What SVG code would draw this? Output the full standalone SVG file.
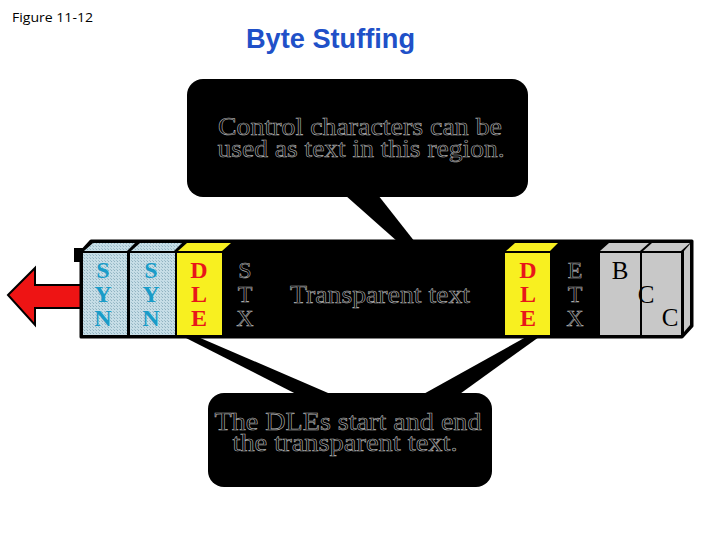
<svg xmlns="http://www.w3.org/2000/svg" width="720" height="540" viewBox="0 0 720 540">
<style>
.hollow{font-family:"Liberation Serif","Times New Roman",serif;font-size:26px;fill:#000;stroke:#b4b4b4;stroke-width:0.6;text-anchor:middle}
.hol24{font-family:"Liberation Serif","Times New Roman",serif;font-size:24px;fill:#000;stroke:#b4b4b4;stroke-width:0.6;text-anchor:middle}
.syn{font-family:"Liberation Serif","Times New Roman",serif;font-size:24px;font-weight:bold;fill:#1a9cc8;text-anchor:middle}
.dle{font-family:"Liberation Serif","Times New Roman",serif;font-size:24px;font-weight:bold;fill:#e8161a;text-anchor:middle}
.bcc{font-family:"Liberation Serif","Times New Roman",serif;font-size:25px;fill:#000;text-anchor:middle}
.callout{fill:#000}
</style>
<defs>
<pattern id="hatch" width="3" height="3" patternUnits="userSpaceOnUse">
<rect width="3" height="3" fill="#c6dde6"/>
<rect width="1" height="1" fill="#8fb2c0"/>
<rect x="2" y="2" width="1" height="1" fill="#9fbfcc"/>
</pattern>
</defs>
<rect width="720" height="540" fill="#fff"/>
<g id="header">
<text x="12" y="22" font-family="'Open Sans','Liberation Sans',sans-serif" font-size="13" textLength="81" lengthAdjust="spacingAndGlyphs" fill="#000">Figure 11-12</text>
<text x="246" y="48" font-family="'Liberation Sans','Noto Sans',sans-serif" font-size="27" font-weight="bold" textLength="169" lengthAdjust="spacingAndGlyphs" fill="#2050c8">Byte Stuffing</text>
</g>
<g id="connectors">
<polygon points="345,195 378,195 415,242 398,242" fill="#000"/>
<polygon points="184,337 198,337 335,396 300,396" fill="#000"/>
<polygon points="526,337 539,337 457,396 420,396" fill="#000"/>
</g>
<g id="arrow">
<polygon points="8,295 35,268 35,285 82,285 82,308 35,308 35,325" fill="#ee1414" stroke="#000" stroke-width="2" stroke-linejoin="miter"/>
</g>
<g id="frame">
<rect x="74" y="248" width="9" height="14" fill="#000"/>
<polygon points="81,252 91,241 692,241 692,326 682,337 81,337" fill="#000" stroke="#000" stroke-width="3" stroke-linejoin="round"/>
<polygon points="84,251 93,243 135,243 127,251" fill="url(#hatch)"/>
<polygon points="131,251 140,243 182,243 174,251" fill="url(#hatch)"/>
<polygon points="178,251 187,243 231,243 222,251" fill="#f8f020"/>
<polygon points="506,251 515,243 558,243 550,251" fill="#f8f020"/>
<polygon points="600,251 609,243 649,243 640,251" fill="#c8c8c8"/>
<polygon points="643,251 652,243 690,243 681,251" fill="#c8c8c8"/>
<polygon points="684,251 690,244 690,325 684,332" fill="#c8c8c8"/>
<rect x="83" y="253" width="44" height="82" fill="url(#hatch)"/>
<rect x="130" y="253" width="45" height="82" fill="url(#hatch)"/>
<rect x="177" y="253" width="45" height="82" fill="#f8f020"/>
<rect x="505" y="253" width="45" height="82" fill="#f8f020"/>
<rect x="600" y="253" width="40" height="82" fill="#c8c8c8"/>
<rect x="642" y="253" width="39" height="82" fill="#c8c8c8"/>
</g>
<g id="syn1">
<text class="syn" x="103" y="278">S</text>
<text class="syn" x="103" y="302">Y</text>
<text class="syn" x="103" y="326">N</text>
</g>
<g id="syn2">
<text class="syn" x="151" y="278">S</text>
<text class="syn" x="151" y="302">Y</text>
<text class="syn" x="151" y="326">N</text>
</g>
<g id="dle1">
<text class="dle" x="199" y="278">D</text>
<text class="dle" x="199" y="302">L</text>
<text class="dle" x="199" y="326">E</text>
</g>
<g id="stx">
<text class="hol24" x="245" y="278">S</text>
<text class="hol24" x="245" y="302">T</text>
<text class="hol24" x="245" y="326">X</text>
</g>
<g id="transparent">
<text class="hollow" x="380" y="303" textLength="180" lengthAdjust="spacingAndGlyphs">Transparent text</text>
</g>
<g id="dle2">
<text class="dle" x="528" y="278">D</text>
<text class="dle" x="528" y="302">L</text>
<text class="dle" x="528" y="326">E</text>
</g>
<g id="etx">
<text class="hol24" x="575" y="278">E</text>
<text class="hol24" x="575" y="302">T</text>
<text class="hol24" x="575" y="326">X</text>
</g>
<g id="bcc">
<text class="bcc" x="620" y="279">B</text>
<text class="bcc" x="646" y="303">C</text>
<text class="bcc" x="670" y="326">C</text>
</g>
<g id="callout-top">
<rect class="callout" x="187" y="79" width="341" height="118" rx="16"/>
<text class="hollow" x="360" y="135" textLength="284" lengthAdjust="spacingAndGlyphs">Control characters can be</text>
<text class="hollow" x="361" y="157" textLength="287" lengthAdjust="spacingAndGlyphs">used as text in this region.</text>
</g>
<g id="callout-bottom">
<rect class="callout" x="208" y="393" width="284" height="94" rx="16"/>
<text class="hollow" x="348" y="430" textLength="267" lengthAdjust="spacingAndGlyphs">The DLEs start and end</text>
<text class="hollow" x="345" y="451" textLength="225" lengthAdjust="spacingAndGlyphs">the transparent text.</text>
</g>
</svg>
